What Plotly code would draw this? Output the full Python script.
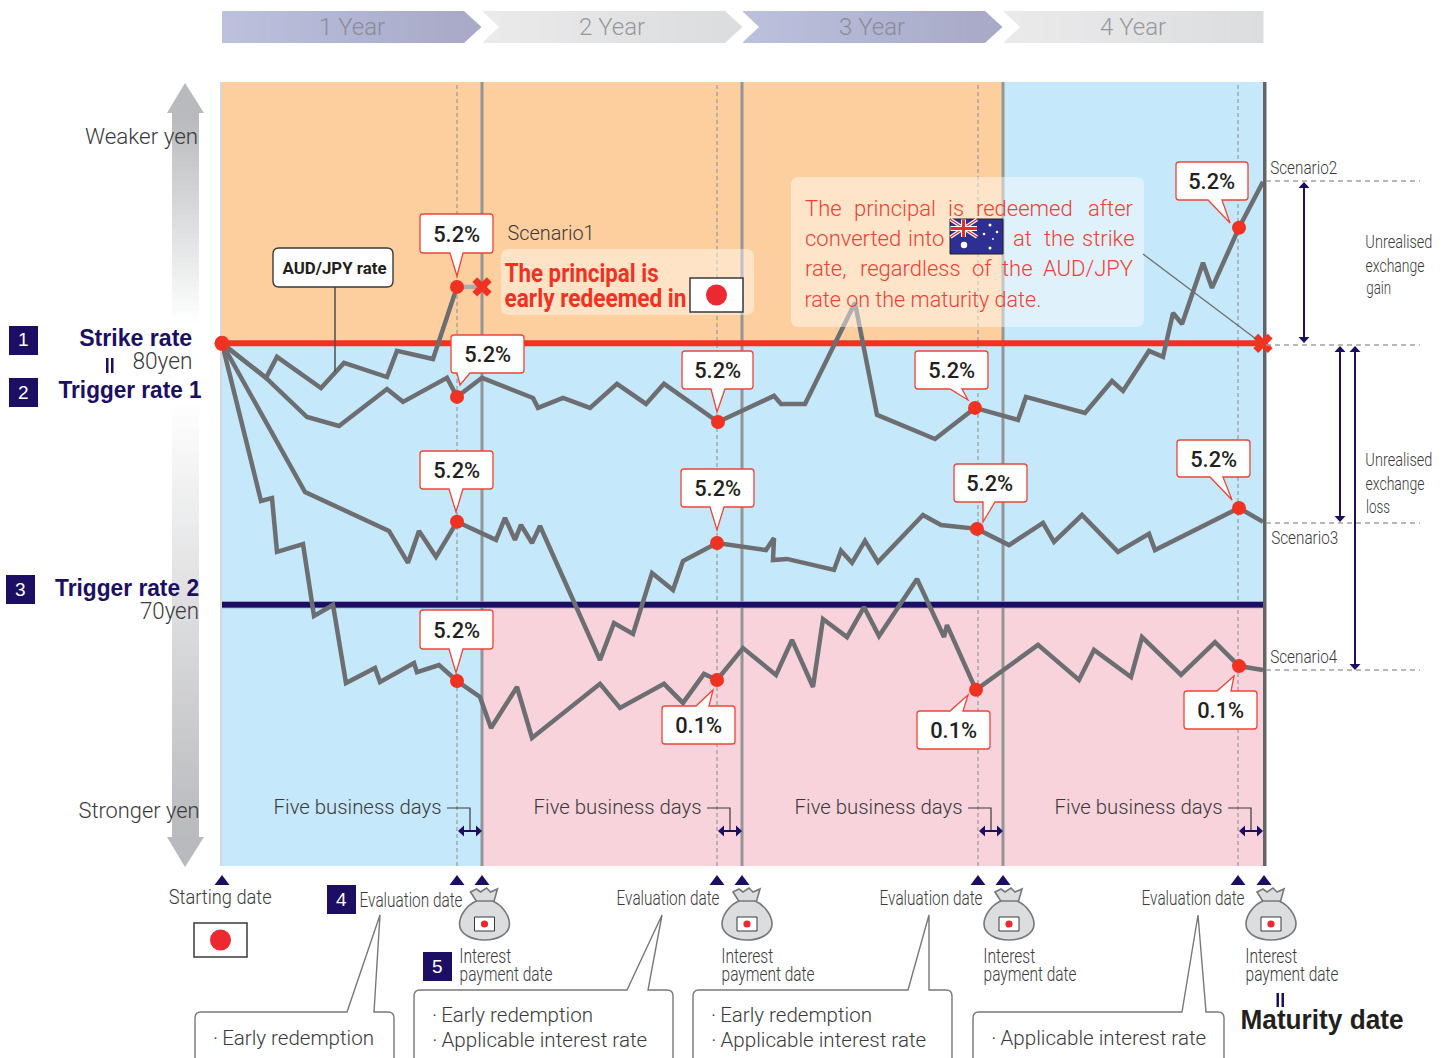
import json
import plotly.graph_objects as go

W, H = 1449, 1058

# ---------- data: x = business days from the starting date, y = AUD/JPY in yen ----------
strike_rate = 80
trigger_rate_1 = 80
trigger_rate_2 = 70
year_days = [260, 520, 781, 1041]
evaluation_days = [235, 495, 756, 1016]

s1_x = [0, 44, 55, 99, 122, 165, 175, 211, 235]
s1_y = [80, 78.68, 79.48, 78.29, 79.25, 78.71, 79.71, 79.40, 82.16]
s1_after_x = [235, 260]
s1_after_y = [82.16, 82.16]
s1_eval = [235]

s2_x = [0, 44, 85, 117, 165, 181, 225, 235, 260, 311, 316, 341, 368, 395, 424, 442, 496, 552, 559,
        583, 633, 655, 713, 753, 796, 804, 863, 890, 901, 927, 941, 951, 960, 981, 990, 1017, 1041]
s2_y = [80, 78.68, 77.18, 76.84, 78.25, 77.76, 78.68, 77.95, 78.68, 77.91, 77.53, 77.91, 77.53, 78.45,
        77.68, 78.45, 76.99, 77.99, 77.68, 77.68, 81.55, 77.26, 76.34, 77.53, 77.07, 77.95, 77.34,
        78.56, 78.18, 79.71, 79.48, 81.16, 80.74, 83.08, 82.12, 84.42, 86.18]
s2_eval = [235, 496, 753, 1017]

s3_x = [0, 83, 167, 186, 197, 214, 235, 274, 283, 293, 299, 310, 318, 378, 392, 411, 430, 451, 461, 495,
        544, 552, 551, 565, 612, 619, 630, 643, 656, 701, 719, 755, 787, 821, 832, 860, 896, 927, 933,
        1017, 1041]
s3_y = [80, 74.31, 72.82, 71.60, 72.82, 71.83, 73.17, 72.48, 73.32, 72.48, 73.05, 72.36, 73.01, 67.88,
        69.30, 68.88, 71.21, 70.56, 71.67, 72.36, 72.09, 72.55, 71.71, 71.75, 71.33, 72.06, 71.60, 72.44,
        71.63, 73.43, 73.05, 72.90, 72.28, 73.13, 72.40, 73.43, 72.02, 72.71, 72.09, 73.70, 73.17]
s3_eval = [235, 495, 755, 1017]

s4_x = [0, 39, 50, 55, 81, 92, 111, 124, 153, 158, 192, 195, 217, 235, 258, 269, 295, 310, 378, 398, 442,
        461, 482, 495, 521, 554, 570, 591, 601, 625, 642, 657, 695, 722, 725, 754, 816, 857, 872, 909, 920,
        959, 993, 1017, 1041]
s4_y = [80, 73.97, 74.08, 72.02, 72.32, 69.57, 69.99, 67.00, 67.58, 67.04, 67.77, 67.42, 67.69, 67.08,
        66.47, 65.28, 66.85, 64.90, 66.97, 66.05, 66.97, 66.24, 67.35, 67.12, 68.34, 67.31, 68.65, 66.85,
        69.45, 68.76, 69.91, 68.80, 70.98, 68.76, 69.22, 66.74, 68.46, 67.12, 68.27, 67.23, 68.76, 67.31,
        68.57, 67.65, 67.50]
s4_eval = [235, 495, 754, 1017]

banner_labels = ["1 Year", "2 Year", "3 Year", "4 Year"]
high_coupon = "5.2%"
low_coupon = "0.1%"

# ---------- styles ----------
NAVY = "#1B0E63"
RED = "#F03223"
GRAY = "#6D6E71"
TXT = "#3A3A3C"
ORANGE = "#FDCF9E"
BLUE = "#C5E8FA"
PINK = "#F9D3DB"
LIGHT = "Roboto"
SANS = "Liberation Sans, Arial"

shapes = []
annos = []
text_widths = {}


def px(x):
    return x / W


def py(y):
    return 1 - y / H


def P(x, y):
    return f"{px(x):.5f},{py(y):.5f}"


def path(d, fill=None, line=None, lw=0, layer="above", dash=None):
    shapes.append(dict(type="path", path=d, xref="paper", yref="paper", layer=layer,
                       fillcolor=fill or "rgba(0,0,0,0)",
                       line=dict(color=line or "rgba(0,0,0,0)", width=lw, dash=dash or "solid")))


def poly(pts, **kw):
    path("M" + " L".join(P(*p) for p in pts) + " Z", **kw)


def seg(pts, color, lw, dash=None, layer="above"):
    path("M" + " L".join(P(*p) for p in pts), line=color, lw=lw, dash=dash, layer=layer)


def rect(x0, y0, x1, y1, fill, layer="above", line=None, lw=0):
    shapes.append(dict(type="rect", xref="paper", yref="paper", x0=px(x0), x1=px(x1), y0=py(y0), y1=py(y1),
                       fillcolor=fill, layer=layer, line=dict(color=line or "rgba(0,0,0,0)", width=lw)))


def circle(cx, cy, r, fill):
    shapes.append(dict(type="circle", xref="paper", yref="paper", x0=px(cx - r), x1=px(cx + r),
                       y0=py(cy - r), y1=py(cy + r), fillcolor=fill, line=dict(width=0), layer="above"))


def rounded(x0, y0, x1, y1, r, tail=None, fill="white", line=None, lw=0):
    d = "M" + P(x0 + r, y0)
    if tail and tail[3] < y0:
        d += " L" + P(tail[0], y0) + " L" + P(tail[2], tail[3]) + " L" + P(tail[1], y0)
    d += " L" + P(x1 - r, y0) + " Q" + P(x1, y0) + " " + P(x1, y0 + r)
    d += " L" + P(x1, y1 - r) + " Q" + P(x1, y1) + " " + P(x1 - r, y1)
    if tail and tail[3] > y1:
        d += " L" + P(tail[1], y1) + " L" + P(tail[2], tail[3]) + " L" + P(tail[0], y1)
    d += " L" + P(x0 + r, y1) + " Q" + P(x0, y1) + " " + P(x0, y1 - r)
    d += " L" + P(x0, y0 + r) + " Q" + P(x0, y0) + " " + P(x0 + r, y0) + " Z"
    path(d, fill=fill, line=line, lw=lw)


def text(x, y, s, size, color=TXT, anchor="left", family=LIGHT, weight=None):
    f = dict(size=size, color=color, family=family)
    if weight:
        f["weight"] = weight
    annos.append(dict(x=px(x), y=py(y), xref="paper", yref="paper", text=s, showarrow=False,
                      xanchor=anchor, yanchor="middle", font=f, borderpad=0))


def fit(x0, x1, y, s, size, color=TXT, family=LIGHT, weight=300):
    """Text centred between x0 and x1, fitted to that width (the reference type is condensed)."""
    text((x0 + x1) / 2, y, s, size, color, "center", family, weight)
    text_widths[s] = x1 - x0


def lerp(c0, c1, t):
    return "rgb(" + ",".join(str(int(a + (b - a) * t)) for a, b in zip(c0, c1)) + ")"


def dshape(x0, x1, y0, y1, fill):
    shapes.append(dict(type="rect", xref="x", yref="y", x0=x0, x1=x1, y0=y0, y1=y1, fillcolor=fill,
                       line=dict(width=0), layer="below"))


def dline(x0, x1, y0, y1, color, width, dash="solid"):
    shapes.append(dict(type="line", xref="x", yref="y", x0=x0, x1=x1, y0=y0, y1=y1,
                       line=dict(color=color, width=width, dash=dash), layer="below"))


# ---------- plot regions ----------
dshape(0, year_days[2], strike_rate, 90, ORANGE)
dshape(year_days[2], year_days[3], strike_rate, 90, BLUE)
dshape(0, year_days[3], trigger_rate_2, strike_rate, BLUE)
dshape(0, year_days[0], 60, trigger_rate_2, BLUE)
dshape(year_days[0], year_days[3], 60, trigger_rate_2, PINK)
rect(220, 82, 222.5, 866, "#D6D7D9", layer="below")
for d in evaluation_days:
    dline(d, d, 60, 90, "#98989B", 1.2, "4px,3px")
for d in year_days[:3]:
    dline(d, d, 60, 90, "#949598", 3)
rect(1260.5, 82, 1266.5, 866, "#636466", layer="below")
dline(0, year_days[3], trigger_rate_1, strike_rate, RED, 6)
dline(0, year_days[3], trigger_rate_2, trigger_rate_2, "#8D88C0", 7)
dline(0, year_days[3], trigger_rate_2, trigger_rate_2, NAVY, 5.5)

# ---------- banner chevrons ----------
c_blue0, c_blue1 = (189, 193, 222), (168, 170, 200)
c_gray0, c_gray1 = (235, 235, 236), (220, 221, 222)
banner_x0 = [222, 483, 743, 1004]
for i, lab in enumerate(banner_labels):
    x0 = banner_x0[i]
    x1 = x0 + 242 if i < 3 else 1263.5
    c0, c1 = (c_blue0, c_blue1) if i % 2 == 0 else (c_gray0, c_gray1)
    steps = 40
    for k in range(steps):
        a = x0 + (x1 - x0) * k / steps
        b = x0 + (x1 - x0) * (k + 1) / steps + 1
        rect(a, 11, min(b, x1), 43, lerp(c0, c1, k / steps))
    if i < 3:
        poly([(x1, 11), (x1 + 17.5, 27), (x1, 43)], fill=lerp(c0, c1, 1))
    if i:
        poly([(x0 - 1, 11), (x0 + 16, 27), (x0 - 1, 43)], fill="white")
    centre = x0 + 130 - (1 if i else 0)
    text(centre, 27, lab, 24, "#8A8B98" if i % 2 == 0 else "#97979A", "center", LIGHT, 300)

# ---------- left yen-direction arrows ----------
arrow_c = (185, 186, 189)
poly([(185, 83), (204, 113), (167, 113)], fill="rgb(185,186,189)", layer="below")
y = 113
while y < 322:
    rect(172, y, 199, y + 7, lerp(arrow_c, (255, 255, 255), (y - 113) / 207), layer="below")
    y += 6
y = 398
while y < 837:
    rect(172, y, 199, min(y + 7, 838), lerp((255, 255, 255), arrow_c, (y - 398) / 439), layer="below")
    y += 6
poly([(167, 837), (204, 837), (185, 867)], fill="rgb(185,186,189)", layer="below")

# ---------- translucent notes ----------
rounded(501, 249, 754, 315, 8, fill="rgba(255,255,255,0.42)")
rounded(791, 177, 1144, 327, 8, fill="rgba(255,255,255,0.45)")
seg([(1143, 254), (1256, 339)], "#6D6E71", 1.3)


# ---------- flags and bags ----------
def jp_flag(x0, y0, x1, y1, r, lw=1.5):
    rect(x0, y0, x1, y1, "white", line="#3A3A3C", lw=lw)
    circle((x0 + x1) / 2, (y0 + y1) / 2, r, "#EC2830")


jp_flag(690, 278, 743, 312, 10.5)
jp_flag(194, 923, 247, 957, 10.5)

rect(950, 219, 1003, 254, "#2D3092", line="#231F20", lw=1)
ux0, ux1, uy0, uy1 = 950.5, 977, 219.5, 237
seg([(ux0, uy0), (ux1, uy1)], "white", 3.5)
seg([(ux0, uy1), (ux1, uy0)], "white", 3.5)
seg([(ux0, uy0), (ux1, uy1)], "#EC2830", 1.3)
seg([(ux0, uy1), (ux1, uy0)], "#EC2830", 1.3)
rect(ux0, 226, ux1, 231, "white")
rect(961, uy0, 966, uy1, "white")
rect(ux0, 227, ux1, 230, "#EC2830")
rect(962, uy0, 965, uy1, "#EC2830")
circle(964, 245, 3.2, "white")
for sx, sy, sr in [(990, 225, 1.5), (984, 234, 1.3), (997, 232, 1.3), (993, 239, 0.9), (990, 248, 1.5)]:
    circle(sx, sy, sr, "white")


def bag(cx):
    path(f"M{P(cx-14,892)} L{P(cx-8,889)} L{P(cx-4,892)} L{P(cx+2,888)} L{P(cx+6,892)} L{P(cx+13,889)} "
         f"L{P(cx+9,903)} L{P(cx-7,903)} Z", fill="#DCDDDE", line="#77787B", lw=1.6)
    path(f"M{P(cx-8,901)} C{P(cx-18,905)} {P(cx-25,916)} {P(cx-25,924)} C{P(cx-25,934)} {P(cx-13,940)} {P(cx,940)} "
         f"C{P(cx+13,940)} {P(cx+25,934)} {P(cx+25,924)} C{P(cx+25,916)} {P(cx+18,905)} {P(cx+8,901)} Z",
         fill="#DCDDDE", line="#77787B", lw=1.6)
    jp_flag(cx - 10, 917, cx + 10, 931, 3.6, 1)


for cx in [484.5, 747, 1009, 1271]:
    bag(cx)

# ---------- red value callouts ----------
callouts = [
    (420, 214, 493, 253, (450, 463, 457, 276), high_coupon),
    (451, 335, 524, 373, (457, 470, 460, 385), high_coupon),
    (682, 351, 753, 389, (711, 725, 717, 412), high_coupon),
    (915, 351, 988, 389, (950, 962, 968, 400), high_coupon),
    (1176, 162, 1248, 200, (1208, 1222, 1230, 223), high_coupon),
    (1177, 440, 1250, 477, (1210, 1223, 1232, 500), high_coupon),
    (954, 464, 1027, 502, (983, 995, 983, 522), high_coupon),
    (420, 451, 493, 489, (449, 463, 456, 512), high_coupon),
    (681, 469, 754, 507, (710, 724, 717, 530), high_coupon),
    (420, 610, 493, 649, (449, 463, 456, 673), high_coupon),
    (662, 706, 735, 744, (696, 709, 713, 690), low_coupon),
    (917, 711, 990, 749, (950, 963, 968, 695), low_coupon),
    (1184, 691, 1257, 729, (1217, 1231, 1234, 676), low_coupon),
]
for x0, y0, x1, y1, tail, lab in callouts:
    rounded(x0, y0, x1, y1, 3, tail, fill="white", line="#F04436", lw=1.3)
    c = (x0 + x1) / 2
    fit(c - 24, c + 23, (y0 + y1) / 2 + 0.8, lab, 22, "#231F20", LIGHT, 500)

# ---------- AUD/JPY rate tag ----------
seg([(335, 287), (335, 372)], "#4D4D4F", 1.5)
rounded(273, 248, 393, 287, 6, fill="white", line="#3A3A3C", lw=1.4)
fit(282, 386, 268, "AUD/JPY rate", 17, "#231F20", LIGHT, 700)

# ---------- right side scale ----------
for y in [181, 345, 523, 670]:
    seg([(1266, y), (1420, y)], "#A0A1A3", 1.5, "5px,4px")


def varrow(x, y0, y1):
    seg([(x, y0 + 4), (x, y1 - 4)], NAVY, 2)
    poly([(x, y0), (x + 5.5, y0 + 6), (x - 5.5, y0 + 6)], fill=NAVY)
    poly([(x, y1), (x + 5.5, y1 - 6), (x - 5.5, y1 - 6)], fill=NAVY)


varrow(1304, 182, 343)
varrow(1340, 346, 522)
varrow(1355, 346, 670)
fit(1270, 1337, 168, "Scenario2", 19)
fit(1271, 1338, 537, "Scenario3", 19)
fit(1270, 1337, 656, "Scenario4", 19)
for y, s, w in zip([241, 265, 288], ["Unrealised", "exchange", "gain"], [67, 59, 25]):
    fit(1365.5, 1365.5 + w, y, s, 19)
for y, s, w in zip([459, 483, 506], ["Unrealised", "exchange", "loss"], [67, 59, 24]):
    fit(1365.5, 1365.5 + w, y, s, 19)

# ---------- left labels ----------
for x, y, n in [(9, 326, "1"), (9, 378, "2"), (6, 575, "3"), (327, 885, "4"), (423, 952, "5")]:
    rect(x, y, x + 29, y + 29, NAVY)
    text(x + 14.5, y + 14, n, 19, "white", "center", SANS)
fit(79, 192, 338, "Strike rate", 24, NAVY, SANS, 700)
fit(132, 192, 362, "80yen", 23)
fit(58, 201, 390, "Trigger rate 1", 24, NAVY, SANS, 700)
fit(55, 199, 587.5, "Trigger rate 2", 24, NAVY, SANS, 700)
fit(140, 199, 611.5, "70yen", 23)
fit(85, 198, 136.5, "Weaker yen", 22)
fit(78, 199, 810, "Stronger yen", 22)
rect(106, 358, 108.5, 373, NAVY)
rect(111, 358, 113.5, 373, NAVY)
rect(1276.5, 993, 1279, 1007, NAVY)
rect(1281.5, 993, 1284, 1007, NAVY)

# ---------- five business days ----------
for off in [0, 260, 521, 781]:
    fit(273.5 + off, 441.5 + off, 807, "Five business days", 21)
    seg([(447 + off, 808), (470 + off, 808), (470 + off, 830)], "#3A3A3C", 1.2)
    seg([(460 + off, 831), (480 + off, 831)], NAVY, 2)
    poly([(458 + off, 831), (464 + off, 825.5), (464 + off, 836.5)], fill=NAVY)
    poly([(482 + off, 831), (476 + off, 825.5), (476 + off, 836.5)], fill=NAVY)

# ---------- bottom date markers ----------
for x in [222, 457, 482, 717, 742, 978, 1003, 1238, 1264]:
    poly([(x, 875), (x + 7.5, 885), (x - 7.5, 885)], fill=NAVY)
fit(169, 272, 897, "Starting date", 21)
for x, y in [(359.5, 900), (616.5, 898), (879.5, 898), (1141.5, 898)]:
    fit(x, x + 103, y, "Evaluation date", 20)
for x in [459.5, 721.5, 983.5, 1245.5]:
    fit(x, x + 52, 955.5, "Interest", 20)
    fit(x, x + 93, 973.5, "payment date", 20)
fit(1240, 1403, 1019.5, "Maturity date", 27, "#231F20", SANS, 700)

# ---------- bottom note boxes ----------
EARLY = "·\u2009Early redemption"
APPLICABLE = "·\u2009Applicable interest rate"
boxes = [
    (195, 1012, 394, (347, 374, 380, 915)),
    (414, 990, 673, (627, 648, 662, 915)),
    (693, 990, 952, (908, 929, 929, 915)),
    (973, 1012, 1224, (1182, 1206, 1198, 915)),
]
for x0, y0, x1, tail in boxes:
    rounded(x0, y0, x1, 1075, 6, tail, fill="white", line="#77787B", lw=1.4)
fit(213, 374, 1038, EARLY, 21)
fit(432, 593, 1015, EARLY, 21)
fit(432, 647, 1040, APPLICABLE, 21)
fit(711, 872, 1015, EARLY, 21)
fit(711, 926, 1040, APPLICABLE, 21)
fit(991, 1206, 1038, APPLICABLE, 21)

# ---------- scenario notes ----------
fit(507, 594, 233, "Scenario1", 21)
fit(504, 658, 273, "The principal is", 26, RED, LIGHT, 700)
fit(504, 686, 298, "early redeemed in", 26, RED, LIGHT, 700)
note_red = "#F03F33"
for x, y, s in [
    (803.5, 208, "The"), (852.5, 208, "principal"), (946.5, 208, "is"), (974.5, 208, "redeemed"), (1087, 208, "after"),
    (803.5, 238.5, "converted"), (906.5, 238.5, "into"), (1012, 238.5, "at"), (1043, 238.5, "the"), (1081, 238.5, "strike"),
    (803.5, 268.5, "rate,"), (858.5, 268.5, "regardless"), (971, 268.5, "of"), (1001, 268.5, "the"), (1042, 268.5, "AUD/JPY"),
]:
    text(x, y, s, 22, note_red, family=LIGHT, weight=300)
fit(804, 1041, 299.5, "rate on the maturity date.", 22, note_red)

# ---------- figure ----------
fig = go.Figure()
LINE = dict(color=GRAY, width=4.5)


def values_at(xs, ys, days):
    table = dict(zip(xs, ys))
    return [table[d] for d in days]


fig.add_trace(go.Scatter(x=s1_after_x, y=s1_after_y, mode="lines", line=dict(color="#ABACAE", width=4.5),
                         name="Scenario 1 after redemption", cliponaxis=False))
for name, xs, ys in [("Scenario 1", s1_x, s1_y), ("Scenario 2", s2_x, s2_y),
                     ("Scenario 3", s3_x, s3_y), ("Scenario 4", s4_x, s4_y)]:
    fig.add_trace(go.Scatter(x=xs, y=ys, mode="lines", line=LINE, name=name, cliponaxis=False))
for name, xs, ys, days in [("Scenario 1 evaluation", s1_x, s1_y, s1_eval),
                           ("Scenario 2 evaluation", s2_x, s2_y, s2_eval),
                           ("Scenario 3 evaluation", s3_x, s3_y, s3_eval),
                           ("Scenario 4 evaluation", s4_x, s4_y, s4_eval)]:
    fig.add_trace(go.Scatter(x=days, y=values_at(xs, ys, days), mode="markers", name=name, cliponaxis=False,
                             marker=dict(color=RED, size=14)))
fig.add_trace(go.Scatter(x=[0], y=[strike_rate], mode="markers", name="Start", cliponaxis=False,
                         marker=dict(color=RED, size=15)))
fig.add_trace(go.Scatter(x=[s1_after_x[-1], year_days[3]], y=[s1_after_y[-1], strike_rate], mode="markers",
                         name="Redeemed", cliponaxis=False,
                         marker=dict(color=RED, size=17, symbol="x", line=dict(width=0))))

fig.update_layout(
    width=W, height=H, margin=dict(l=0, r=0, t=0, b=0), showlegend=False, autosize=False,
    paper_bgcolor="white", plot_bgcolor="white", hovermode=False,
    xaxis=dict(domain=[222 / W, 1263 / W], range=[0, 1041], visible=False, fixedrange=True),
    yaxis=dict(domain=[(H - 866) / H, (H - 82) / H], range=[60, 90], visible=False, fixedrange=True),
    shapes=shapes, annotations=annos,
)
post = ("document.body.style.margin='0';document.documentElement.style.overflow='hidden';"
        "var M=" + json.dumps(text_widths) + ";"
        "document.querySelectorAll('text.annotation-text').forEach(function(t){"
        "var w=M[t.textContent];if(w){t.setAttribute('textLength',w);"
        "t.setAttribute('lengthAdjust','spacingAndGlyphs');}});")
fig.write_html("out.html", post_script=post, config={"displayModeBar": False})
